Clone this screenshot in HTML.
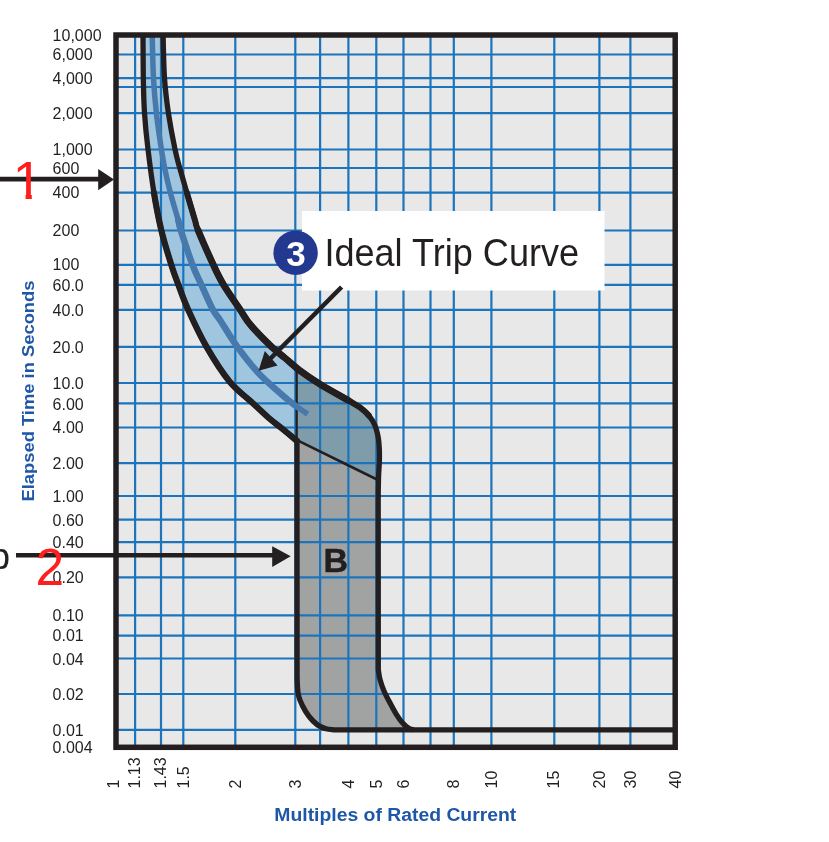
<!DOCTYPE html>
<html lang="en"><head><meta charset="utf-8"><title>Trip Curve</title>
<style>html,body{margin:0;padding:0;background:#fff}body{width:829px;height:842px;overflow:hidden}svg{display:block}text{font-family:"Liberation Sans",sans-serif}</style></head><body>
<svg width="829" height="842" viewBox="0 0 829 842">
<rect width="829" height="842" fill="#fff"/>
<rect x="116" y="35" width="559.2" height="712.3" fill="#e8e8e8"/>
<defs><clipPath id="rc"><rect x="296.5" y="30" width="200" height="720"/></clipPath></defs>
<path d="M143.0 35.0C143.1 42.2 143.1 65.0 143.3 78.0C143.6 91.0 143.7 101.1 144.5 113.0C145.3 124.9 146.4 136.1 148.0 149.3C149.6 162.6 151.7 179.0 153.9 192.5C156.1 206.0 158.4 218.1 161.3 230.2C164.2 242.3 168.6 256.1 171.4 265.2C174.2 274.3 175.5 277.2 178.3 284.6C181.1 292.0 183.4 299.3 188.1 309.6C192.8 319.9 199.4 334.4 206.3 346.4C213.2 358.4 221.7 372.0 229.5 381.5C237.3 391.0 246.3 397.1 253.1 403.4C259.9 409.6 265.4 415.0 270.0 419.0C274.6 423.0 276.1 423.7 280.6 427.4C285.1 431.1 294.3 438.7 297.0 441.0L297 441 L376 479 L378.5 478.3C378.6 475.2 379.3 464.9 379.4 460.0C379.5 455.1 379.5 452.8 379.3 449.0C379.1 445.2 378.9 441.2 378.2 437.2C377.4 433.2 376.4 428.7 374.8 425.1C373.2 421.5 371.2 418.4 368.8 415.5C366.4 412.6 363.7 410.1 360.3 407.6C356.9 405.1 355.0 404.3 348.3 400.4C341.6 396.5 328.0 389.1 319.9 384.1C311.8 379.1 305.6 374.9 299.8 370.5C294.0 366.1 289.8 362.0 285.0 358.0C280.2 354.0 277.0 352.0 271.3 346.5C265.6 341.0 255.8 331.1 250.6 325.0C245.4 318.9 244.6 316.3 240.1 309.6C235.6 302.9 227.8 292.0 223.4 284.6C219.0 277.2 217.7 274.2 213.5 265.2C209.3 256.1 201.2 237.8 198.1 230.3C195.0 222.8 196.8 226.3 194.9 220.0C193.0 213.7 189.3 201.2 186.8 192.5C184.3 183.8 181.7 175.0 179.7 167.8C177.7 160.6 176.9 158.4 175.0 149.3C173.1 140.2 170.2 125.0 168.4 113.2C166.7 101.4 165.4 91.3 164.5 78.3C163.6 65.3 163.3 42.2 163.1 35.0Z" fill="#9fc5df"/>
<path d="M143.0 35.0C143.1 42.2 143.1 65.0 143.3 78.0C143.6 91.0 143.7 101.1 144.5 113.0C145.3 124.9 146.4 136.1 148.0 149.3C149.6 162.6 151.7 179.0 153.9 192.5C156.1 206.0 158.4 218.1 161.3 230.2C164.2 242.3 168.6 256.1 171.4 265.2C174.2 274.3 175.5 277.2 178.3 284.6C181.1 292.0 183.4 299.3 188.1 309.6C192.8 319.9 199.4 334.4 206.3 346.4C213.2 358.4 221.7 372.0 229.5 381.5C237.3 391.0 246.3 397.1 253.1 403.4C259.9 409.6 265.4 415.0 270.0 419.0C274.6 423.0 276.1 423.7 280.6 427.4C285.1 431.1 294.3 438.7 297.0 441.0L297 441 L376 479 L378.5 478.3C378.6 475.2 379.3 464.9 379.4 460.0C379.5 455.1 379.5 452.8 379.3 449.0C379.1 445.2 378.9 441.2 378.2 437.2C377.4 433.2 376.4 428.7 374.8 425.1C373.2 421.5 371.2 418.4 368.8 415.5C366.4 412.6 363.7 410.1 360.3 407.6C356.9 405.1 355.0 404.3 348.3 400.4C341.6 396.5 328.0 389.1 319.9 384.1C311.8 379.1 305.6 374.9 299.8 370.5C294.0 366.1 289.8 362.0 285.0 358.0C280.2 354.0 277.0 352.0 271.3 346.5C265.6 341.0 255.8 331.1 250.6 325.0C245.4 318.9 244.6 316.3 240.1 309.6C235.6 302.9 227.8 292.0 223.4 284.6C219.0 277.2 217.7 274.2 213.5 265.2C209.3 256.1 201.2 237.8 198.1 230.3C195.0 222.8 196.8 226.3 194.9 220.0C193.0 213.7 189.3 201.2 186.8 192.5C184.3 183.8 181.7 175.0 179.7 167.8C177.7 160.6 176.9 158.4 175.0 149.3C173.1 140.2 170.2 125.0 168.4 113.2C166.7 101.4 165.4 91.3 164.5 78.3C163.6 65.3 163.3 42.2 163.1 35.0Z" fill="#7f9cab" clip-path="url(#rc)"/>
<path d="M297.0 441.0L297.1 679.0C297.3 681.6 297.4 690.3 298.3 694.8C299.2 699.2 300.7 702.1 302.5 705.7C304.3 709.3 306.6 713.3 309.1 716.5C311.6 719.7 314.8 723.0 317.6 725.0C320.4 727.0 323.3 728.0 326.0 728.8C328.7 729.6 332.7 729.6 334.0 729.8L413.5 729.8C412.6 729.5 410.2 729.2 408.3 728.0C406.4 726.8 404.2 724.9 402.2 722.6C400.2 720.3 398.2 717.3 396.2 714.1C394.2 710.9 392.2 707.1 390.2 703.3C388.2 699.5 385.8 695.2 384.1 691.2C382.4 687.2 380.9 682.7 379.9 679.1C378.9 675.5 378.6 671.1 378.3 669.5L378.4 479.0L376 479Z" fill="#a1a2a2"/>
<path d="M116 54.5H675.2M116 78.1H675.2M116 87H675.2M116 113.2H675.2M116 149.5H675.2M116 168H675.2M116 192.6H675.2M116 230.5H675.2M116 264.9H675.2M116 284.8H675.2M116 309.8H675.2M116 346.8H675.2M116 383H675.2M116 403.4H675.2M116 427.5H675.2M116 463.2H675.2M116 496H675.2M116 519.7H675.2M116 542.2H675.2M116 577.4H675.2M116 615.3H675.2M116 635.6H675.2M116 658.5H675.2M116 694H675.2M116 729.8H675.2M135.1 35V747.3M161 35V747.3M183.3 35V747.3M235.3 35V747.3M295.3 35V747.3M320.1 35V747.3M348.4 35V747.3M376.3 35V747.3M403.5 35V747.3M430.5 35V747.3M453.8 35V747.3M491.4 35V747.3M554.3 35V747.3M599.4 35V747.3M630.4 35V747.3" stroke="#1c75bc" stroke-width="2.2" fill="none"/>
<rect x="302" y="211" width="302.5" height="79.5" fill="#fff"/>
<path d="M296.7 370V441" stroke="#231f20" stroke-width="2.2" fill="none"/><path d="M297 440.2L377 479.5" stroke="#231f20" stroke-width="2.6" fill="none"/>
<path d="M152.2 35.0C152.4 42.2 152.8 65.3 153.5 78.3C154.2 91.3 155.1 101.4 156.4 113.2C157.7 125.0 160.0 140.2 161.4 149.3C162.8 158.4 163.1 160.6 164.6 167.8C166.1 175.0 168.0 183.8 170.3 192.5C172.6 201.2 176.4 213.7 178.2 220.0C179.9 226.3 178.4 222.8 180.8 230.3C183.2 237.8 189.2 256.1 192.6 265.2C196.0 274.2 197.9 277.2 201.3 284.6C204.7 292.0 209.7 303.7 212.8 309.6C215.9 315.5 216.0 313.9 220.0 320.0C224.0 326.1 230.6 337.6 237.0 346.4C243.4 355.2 251.4 365.4 258.3 372.9C265.2 380.4 272.2 386.2 278.3 391.6C284.4 397.0 290.2 401.8 295.1 405.5C300.0 409.2 305.7 412.6 307.8 414.0" stroke="#4779ad" stroke-width="5.5" fill="none"/>
<path d="M178.2 220.0C179.9 226.3 178.4 222.8 180.8 230.3C183.2 237.8 189.2 256.1 192.6 265.2C196.0 274.2 197.9 277.2 201.3 284.6C204.7 292.0 209.7 303.7 212.8 309.6C215.9 315.5 216.0 313.9 220.0 320.0C224.0 326.1 230.6 337.6 237.0 346.4C243.4 355.2 251.4 365.4 258.3 372.9C265.2 380.4 272.2 386.2 278.3 391.6C284.4 397.0 290.2 401.8 295.1 405.5" stroke="#4779ad" stroke-width="6.5" fill="none" stroke-linecap="round"/>
<path d="M143.0 35.0C143.1 42.2 143.1 65.0 143.3 78.0C143.6 91.0 143.7 101.1 144.5 113.0C145.3 124.9 146.4 136.1 148.0 149.3C149.6 162.6 151.7 179.0 153.9 192.5C156.1 206.0 158.4 218.1 161.3 230.2C164.2 242.3 168.6 256.1 171.4 265.2C174.2 274.3 175.5 277.2 178.3 284.6C181.1 292.0 183.4 299.3 188.1 309.6C192.8 319.9 199.4 334.4 206.3 346.4C213.2 358.4 221.7 372.0 229.5 381.5C237.3 391.0 246.3 397.1 253.1 403.4C259.9 409.6 265.4 415.0 270.0 419.0C274.6 423.0 276.1 423.7 280.6 427.4C285.1 431.1 294.3 438.7 297.0 441.0L297.1 679.0C297.3 681.6 297.4 690.3 298.3 694.8C299.2 699.2 300.7 702.1 302.5 705.7C304.3 709.3 306.6 713.3 309.1 716.5C311.6 719.7 314.8 723.0 317.6 725.0C320.4 727.0 323.3 728.0 326.0 728.8C328.7 729.6 332.7 729.6 334.0 729.8L673 729.8" stroke="#231f20" stroke-width="5.3" fill="none" stroke-linejoin="round"/>
<path d="M163.1 35.0C163.3 42.2 163.6 65.3 164.5 78.3C165.4 91.3 166.7 101.4 168.4 113.2C170.2 125.0 173.1 140.2 175.0 149.3C176.9 158.4 177.7 160.6 179.7 167.8C181.7 175.0 184.3 183.8 186.8 192.5C189.3 201.2 193.0 213.7 194.9 220.0C196.8 226.3 195.0 222.8 198.1 230.3C201.2 237.8 209.3 256.1 213.5 265.2C217.7 274.2 219.0 277.2 223.4 284.6C227.8 292.0 235.6 302.9 240.1 309.6C244.6 316.3 245.4 318.9 250.6 325.0C255.8 331.1 265.6 341.0 271.3 346.5C277.0 352.0 280.2 354.0 285.0 358.0C289.8 362.0 294.0 366.1 299.8 370.5C305.6 374.9 311.8 379.1 319.9 384.1C328.0 389.1 341.6 396.5 348.3 400.4C355.0 404.3 356.9 405.1 360.3 407.6C363.7 410.1 366.4 412.6 368.8 415.5C371.2 418.4 373.2 421.5 374.8 425.1C376.4 428.7 377.4 433.2 378.2 437.2C378.9 441.2 379.1 445.2 379.3 449.0C379.5 452.8 379.5 455.1 379.4 460.0C379.3 464.9 378.7 471.3 378.5 478.3C378.3 485.3 378.2 498.1 378.2 502.0L378.3 669.5C378.6 671.1 378.9 675.5 379.9 679.1C380.9 682.7 382.4 687.2 384.1 691.2C385.8 695.2 388.2 699.5 390.2 703.3C392.2 707.1 394.2 710.9 396.2 714.1C398.2 717.3 400.2 720.3 402.2 722.6C404.2 724.9 406.4 726.8 408.3 728.0C410.2 729.2 412.6 729.5 413.5 729.8" stroke="#231f20" stroke-width="5.3" fill="none" stroke-linejoin="round"/>
<path d="M153.9 192.5C156.1 206.0 158.4 218.1 161.3 230.2C164.2 242.3 168.6 256.1 171.4 265.2C174.2 274.3 175.5 277.2 178.3 284.6C181.1 292.0 183.4 299.3 188.1 309.6C192.8 319.9 199.4 334.4 206.3 346.4C213.2 358.4 221.7 372.0 229.5 381.5C237.3 391.0 246.3 397.1 253.1 403.4C259.9 409.6 265.4 415.0 270.0 419.0C274.6 423.0 276.1 423.7 280.6 427.4C285.1 431.1 294.3 438.7 297.0 441.0" stroke="#231f20" stroke-width="6.2" fill="none" stroke-linecap="round"/>
<path d="M186.8 192.5C189.3 201.2 193.0 213.7 194.9 220.0C196.8 226.3 195.0 222.8 198.1 230.3C201.2 237.8 209.3 256.1 213.5 265.2C217.7 274.2 219.0 277.2 223.4 284.6C227.8 292.0 235.6 302.9 240.1 309.6C244.6 316.3 245.4 318.9 250.6 325.0C255.8 331.1 265.6 341.0 271.3 346.5C277.0 352.0 280.2 354.0 285.0 358.0C289.8 362.0 294.0 366.1 299.8 370.5C305.6 374.9 311.8 379.1 319.9 384.1C328.0 389.1 341.6 396.5 348.3 400.4C355.0 404.3 356.9 405.1 360.3 407.6C363.7 410.1 366.4 412.6 368.8 415.5" stroke="#231f20" stroke-width="6" fill="none" stroke-linecap="round"/>
<path d="M198.1 230.3C201.2 237.8 209.3 256.1 213.5 265.2C217.7 274.2 219.0 277.2 223.4 284.6C227.8 292.0 235.6 302.9 240.1 309.6C244.6 316.3 245.4 318.9 250.6 325.0C255.8 331.1 265.6 341.0 271.3 346.5C277.0 352.0 280.2 354.0 285.0 358.0C289.8 362.0 294.0 366.1 299.8 370.5C305.6 374.9 311.8 379.1 319.9 384.1C328.0 389.1 341.6 396.5 348.3 400.4" stroke="#231f20" stroke-width="6.8" fill="none" stroke-linecap="round"/>
<rect x="116" y="35" width="559.2" height="712.3" fill="none" stroke="#231f20" stroke-width="5.5"/>
<path d="M0 179.2H101" stroke="#231f20" stroke-width="4.7"/>
<path d="M98.2 169L114 179.6L98.2 190.2Z" fill="#231f20"/>
<path d="M16 555.3H276" stroke="#231f20" stroke-width="4.6"/>
<path d="M272.2 546.2L290.7 556.2L272.2 567Z" fill="#231f20"/>
<path d="M341.6 287L268 361" stroke="#231f20" stroke-width="4.6"/>
<path d="M258.6 370.8L264.8 351L277.6 365.4Z" fill="#231f20"/>
<circle cx="295.6" cy="252.8" r="22.2" fill="#23398f"/>
<text x="296.1" y="265.6" font-size="35" font-weight="bold" fill="#fff" text-anchor="middle" textLength="19.5" lengthAdjust="spacingAndGlyphs">3</text>
<text x="324.4" y="265.6" font-size="39" fill="#231f20" textLength="254.7" lengthAdjust="spacingAndGlyphs">Ideal Trip Curve</text>
<text x="323.6" y="571.5" font-size="34" font-weight="bold" fill="#231f20" stroke="#231f20" stroke-width="0.5">B</text>
<text x="-10.4" y="569" font-size="37" fill="#231f20">b</text>
<g font-size="16" fill="#231f20">
<text x="52.6" y="40.7">10,000</text>
<text x="52.6" y="60.2">6,000</text>
<text x="52.6" y="83.6">4,000</text>
<text x="52.6" y="118.9">2,000</text>
<text x="52.6" y="155.4">1,000</text>
<text x="52.6" y="173.9">600</text>
<text x="52.6" y="198.4">400</text>
<text x="52.6" y="236.4">200</text>
<text x="52.6" y="270.0">100</text>
<text x="52.6" y="290.5">60.0</text>
<text x="52.6" y="315.6">40.0</text>
<text x="52.6" y="352.9">20.0</text>
<text x="52.6" y="388.8">10.0</text>
<text x="52.6" y="409.6">6.00</text>
<text x="52.6" y="433.3">4.00</text>
<text x="52.6" y="468.9">2.00</text>
<text x="52.6" y="501.7">1.00</text>
<text x="52.6" y="525.6">0.60</text>
<text x="52.6" y="547.9">0.40</text>
<text x="52.6" y="583.1">0.20</text>
<text x="52.6" y="621.0">0.10</text>
<text x="52.6" y="641.3">0.01</text>
<text x="52.6" y="664.6">0.04</text>
<text x="52.6" y="700.2">0.02</text>
<text x="52.6" y="735.7">0.01</text>
<text x="52.6" y="753.0">0.004</text>
</g>
<g font-size="16" fill="#231f20">
<text transform="translate(119.1 788.5) rotate(-90)">1</text>
<text transform="translate(139.7 788.5) rotate(-90)">1.13</text>
<text transform="translate(166.2 788.5) rotate(-90)">1.43</text>
<text transform="translate(189.2 788.5) rotate(-90)">1.5</text>
<text transform="translate(240.9 788.5) rotate(-90)">2</text>
<text transform="translate(300.9 788.5) rotate(-90)">3</text>
<text transform="translate(353.5 788.5) rotate(-90)">4</text>
<text transform="translate(381.6 788.5) rotate(-90)">5</text>
<text transform="translate(409.0 788.5) rotate(-90)">6</text>
<text transform="translate(459.0 788.5) rotate(-90)">8</text>
<text transform="translate(496.6 788.5) rotate(-90)">10</text>
<text transform="translate(559.2 788.5) rotate(-90)">15</text>
<text transform="translate(604.7 788.5) rotate(-90)">20</text>
<text transform="translate(635.8 788.5) rotate(-90)">30</text>
<text transform="translate(680.6 788.5) rotate(-90)">40</text>
</g>
<clipPath id="c1"><rect x="0" y="150" width="60" height="44.2"/><rect x="25.6" y="190" width="6.2" height="12"/></clipPath>
<g clip-path="url(#c1)"><text x="12.8" y="199" font-size="53.2" fill="#ff1d1d">1</text></g>
<text x="35.5" y="585" font-size="51.5" fill="#ff1d1d">2</text>
<text transform="translate(33.9 501.5) rotate(-90)" font-size="17" font-weight="bold" fill="#1f57a7" textLength="221" lengthAdjust="spacingAndGlyphs">Elapsed Time in Seconds</text>
<text x="274.3" y="820.8" font-size="17.5" font-weight="bold" fill="#1f57a7" textLength="242" lengthAdjust="spacingAndGlyphs">Multiples of Rated Current</text>
</svg></body></html>
